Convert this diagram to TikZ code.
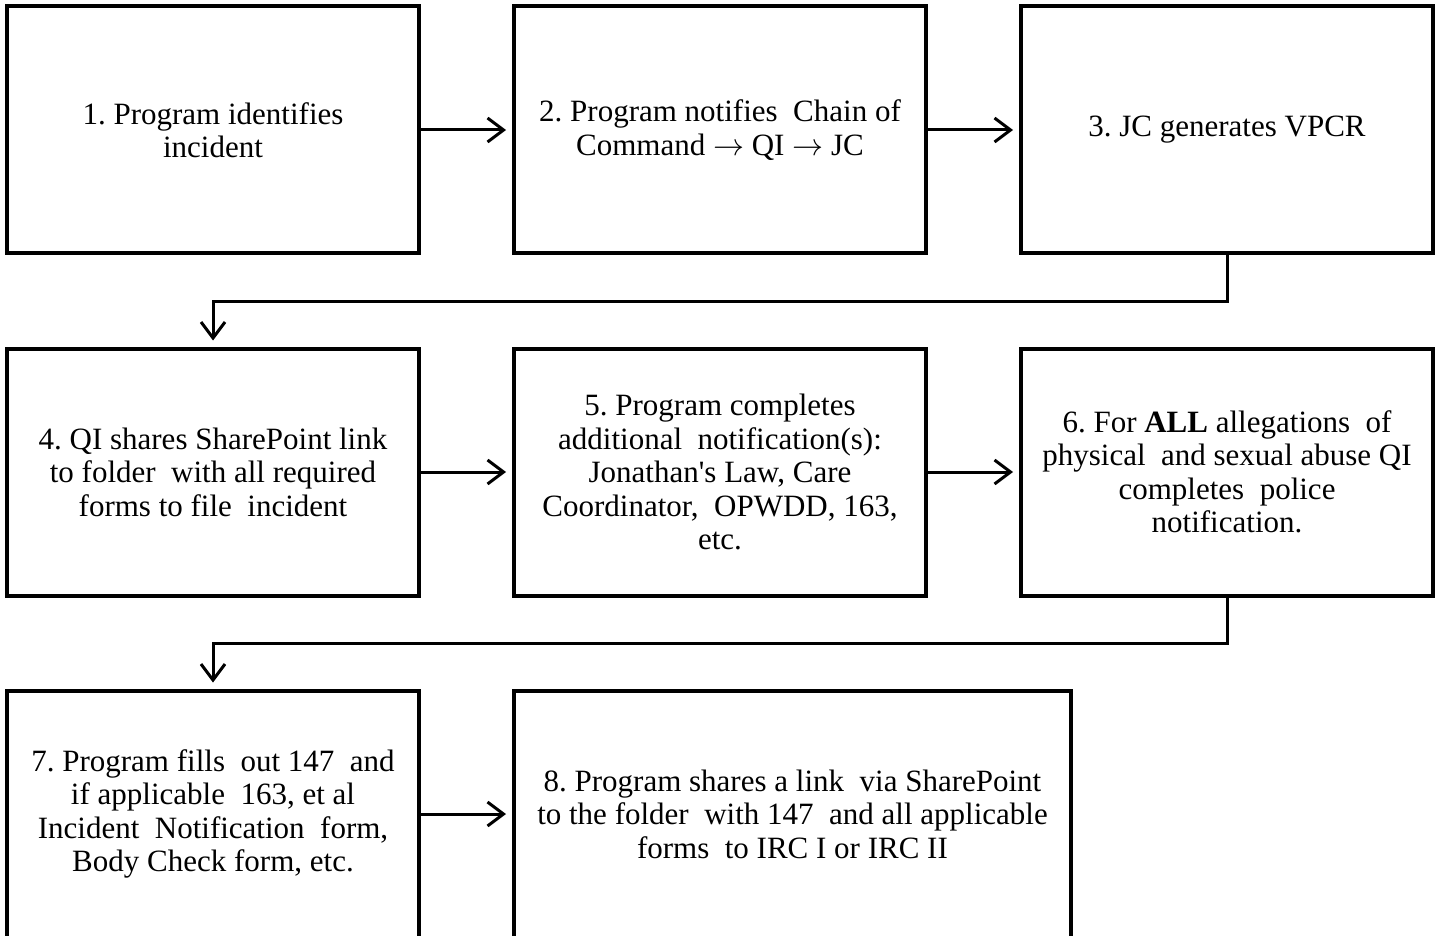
\RequirePackage{fix-cm}
\documentclass[tikz,border=0pt]{standalone}
\usepackage{fontspec}
\setmainfont{Liberation Serif}[Ligatures=TeXOff]
\usetikzlibrary{arrows.meta, positioning}
\frenchspacing

\begin{document}
\begin{tikzpicture}[
	x=1pt, y=1pt,
	every node/.style={font=\fontsize{31}{33.5}\selectfont},
	stepnode/.style={draw, line width=4pt, minimum width=412pt, minimum height=247pt, align=center, inner sep=0pt},
	arrow/.style={-{Straight Barb[length=16pt, width=24pt]}, line width=3pt, shorten >=6pt}
	]
	\useasboundingbox (0,0) rectangle (1441,-936);
	
	% Row 1
	\node[stepnode] (s1) at (213,-130) {1. Program identifies\\incident};
	\node[stepnode, right=91pt of s1] (s2) {2. Program notifies\ \ Chain of\\Command $\rightarrow$ QI $\rightarrow$ JC};
	\node[stepnode, right=91pt of s2] (s3) {3. JC generates VPCR};
	
	% Row 2
	\node[stepnode, below=91pt of s1] (s4) {4. QI shares SharePoint link\\to folder\ \ with all required\\forms to file\ \ incident};
	\node[stepnode, right=91pt of s4] (s5) {5. Program completes\\additional\ \ notification(s):\\Jonathan's Law, Care\\Coordinator,\ \ OPWDD, 163,\\etc.};
	\node[stepnode, right=91pt of s5] (s6) {6. For \textbf{ALL} allegations\ \ of\\physical\ \ and sexual abuse QI\\completes\ \ police\\notification.};
	
	% Row 3
	\node[stepnode, below=91pt of s4] (s7) {7. Program fills\ \ out 147\ \ and\\if applicable\ \ 163, et al\\Incident\ \ Notification\ \ form,\\Body Check form, etc.};
	\node[stepnode, right=91pt of s7, minimum width=557pt] (s8) {8. Program shares a link\ \ via SharePoint\\to the folder\ \ with 147\ \ and all applicable\\forms\ \ to IRC I or IRC II};
	
	% Connections
	\draw[arrow] (s1) -- (s2);
	\draw[arrow] (s2) -- (s3);
	\draw[arrow] (s4) -- (s5);
	\draw[arrow] (s5) -- (s6);
	\draw[arrow] (s7) -- (s8);
	
	\draw[arrow] (s3.south) -- ++(0,-46) -| (s4.north);
	\draw[arrow] (s6.south) -- ++(0,-46) -| (s7.north);
	
\end{tikzpicture}
\end{document}
